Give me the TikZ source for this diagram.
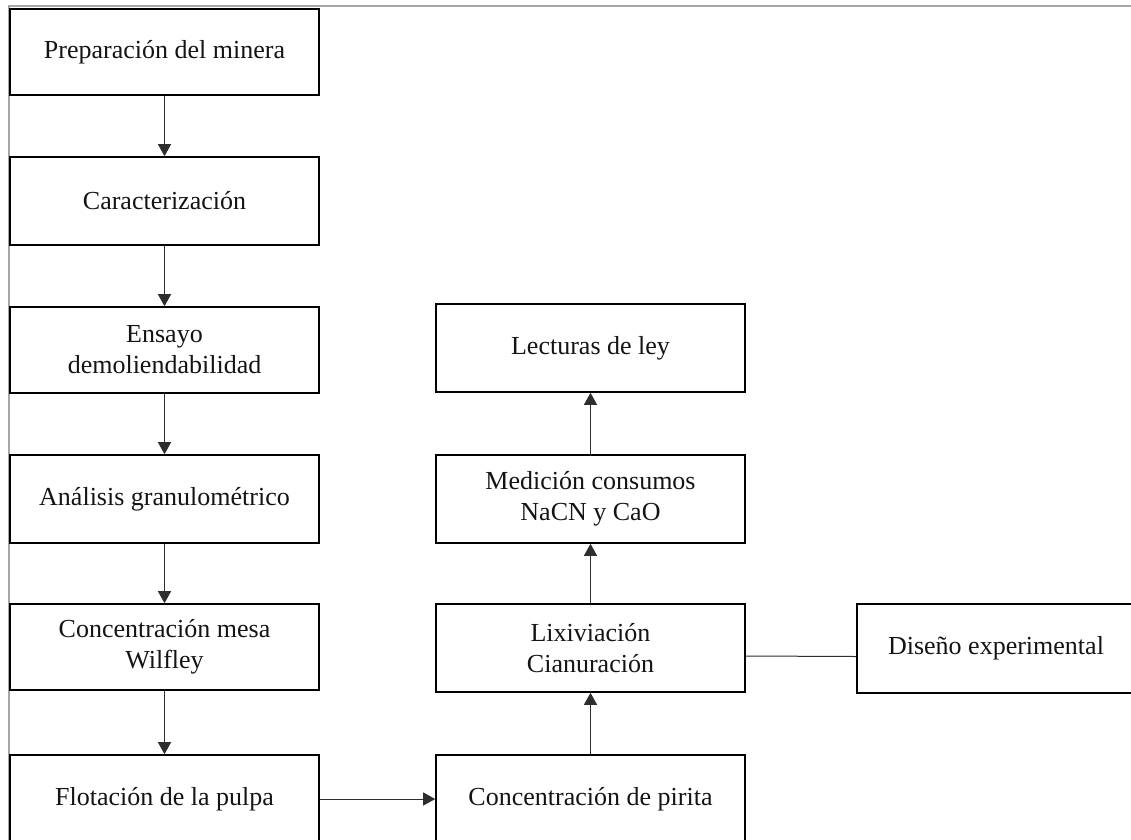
\documentclass[tikz,border=0pt]{standalone}
\usepackage{fontspec}
\setmainfont{Liberation Serif}
\usetikzlibrary{arrows.meta}
\definecolor{framegray}{HTML}{A6A6A6}
\definecolor{linkgray}{HTML}{2E2E2E}
\begin{document}
\begin{tikzpicture}[x=1pt,y=-1pt,
  box/.style={draw=black, line width=1.6pt, rectangle, minimum width=309pt, minimum height=88pt,
    inner sep=0pt, align=center, font=\fontsize{26}{31}\selectfont, text=black!92},
  link/.style={draw=linkgray, line width=1pt, -{Triangle[width=13pt,length=12pt]}},
  plain/.style={draw=linkgray, line width=1pt}]
\useasboundingbox (0,0) rectangle (1131,839);
\clip (0,0) rectangle (1131,839);
\fill[white] (0,0) rectangle (1131,839);
\draw[framegray, line width=2pt] (9,845) -- (9,6) -- (1140,6);
% left column
\node[box, minimum height=86pt] (b1) at (164.5,52) {Preparación del minera};
\node[box] (b2) at (164.5,201) {Caracterización};
\node[box, minimum height=86pt] (b3) at (164.5,350) {Ensayo\\demoliendabilidad};
\node[box] (b4) at (164.5,499) {Análisis granulométrico};
\node[box, minimum height=86pt] (b5) at (164.5,647) {Concentración mesa\\Wilfley};
\node[box] (b6) at (164.5,799) {Flotación de la pulpa};
% right column
\node[box] (r1) at (590.5,348) {Lecturas de ley};
\node[box] (r2) at (590.5,499) {Medición consumos\\NaCN y CaO};
\node[box] (r3) at (590.5,648) {Lixiviación\\Cianuración};
\node[box] (r4) at (590.5,799) {Concentración de pirita};
\node[box, minimum width=278pt, minimum height=89pt] (d) at (996,648.5) {Diseño experimental};
% connectors
\draw[link] (b1) -- (b2);
\draw[link] (b2) -- (b3);
\draw[link] (b3) -- (b4);
\draw[link] (b4) -- (b5);
\draw[link] (b5) -- (b6);
\draw[link] (b6) -- (r4);
\draw[link] (r4) -- (r3);
\draw[link] (r3) -- (r2);
\draw[link] (r2) -- (r1);
\draw[plain] ([yshift=-8pt]r3.east) -- ([yshift=-8pt]d.west);
\end{tikzpicture}
\end{document}
